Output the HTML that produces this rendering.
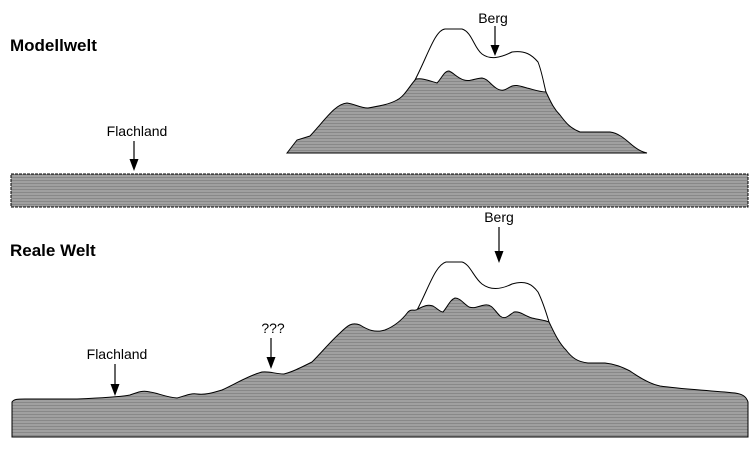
<!DOCTYPE html>
<html><head><meta charset="utf-8"><style>
html,body{margin:0;padding:0;background:#fff;}
svg{display:block;}
text{font-family:"Liberation Sans",Arial,sans-serif;fill:#000;}
</style></head><body>
<svg width="755" height="450" viewBox="0 0 755 450" xmlns="http://www.w3.org/2000/svg">
<defs>
<pattern id="p" width="4" height="3" patternUnits="userSpaceOnUse">
<rect width="4" height="3" fill="#a0a0a0"/>
<rect width="4" height="1" fill="#888"/>
</pattern>
</defs>
<text x="10" y="51" font-size="17" font-weight="bold">Modellwelt</text>
<path d="M415,80 C428,55 435,30 445,29 L462,29 C472,32 474,48 482,54 C490,60 500,58 512,52 C525,50 532,55 538,62 C542,72 544,85 546,92" fill="none" stroke="#000" stroke-width="1"/>
<path d="M287,153 L297,140 L310,136 C325,120 335,104 347,103 C355,104 360,108 368,108 C380,106 390,104 397,100 C405,96 410,85 416,79 C422,78 427,80 437,83 C442,78 444,71 449,71 C454,73 457,78 464,80 C470,82 476,78 482,78 C488,79 490,84 496,88 C502,92 505,90 510,87 C515,84 520,86 527,88 C535,90 540,92 546,92 C550,100 553,108 560,115 C566,123 570,128 580,132 L610,132 C618,133 624,138 632,145 C638,150 642,152 647,153 Z" fill="url(#p)" stroke="#000" stroke-width="1"/>
<text x="493" y="23" font-size="14" text-anchor="middle">Berg</text>
<line x1="495" y1="26" x2="495" y2="46" stroke="#000" stroke-width="1.2"/>
<polygon points="490.5,45 499.5,45 495,56" fill="#000"/>
<rect x="11" y="174" width="737" height="33" fill="url(#p)" stroke="#000" stroke-width="1" stroke-dasharray="3,1"/>
<text x="137" y="136" font-size="14" text-anchor="middle">Flachland</text>
<line x1="134" y1="141" x2="134" y2="160" stroke="#000" stroke-width="1.2"/>
<polygon points="129.5,159 138.5,159 134,171" fill="#000"/>

<text x="10" y="256" font-size="17" font-weight="bold">Reale Welt</text>
<path d="M416,312 C428,290 435,265 446,262 L462,262 C470,264 474,278 482,284 C490,290 500,290 512,284 C525,280 532,284 538,292 C543,302 546,312 549,322" fill="none" stroke="#000" stroke-width="1"/>
<path d="M12,437 L12,402 C14,399 18,399 25,399 L77,399 C100,398 120,397 130,395 C138,392 143,390 150,392 C158,393 165,397 177,398 C185,396 190,393 197,394 C205,395 212,393 222,390 C235,384 250,375 262,372 C270,371 275,374 284,374 C292,372 300,368 312,362 C322,352 330,342 340,333 C348,325 352,322 360,325 C368,330 375,333 385,330 C395,326 402,320 408,312 C412,308 414,312 418,309 C424,306 428,304 433,306 C438,309 440,312 443,312 C448,306 450,300 455,298 C460,298 463,303 469,307 C475,309 478,306 485,305 C492,304 494,310 500,316 C505,320 508,316 514,312 C520,311 525,316 532,318 C540,320 545,320 549,322 C553,330 558,342 566,350 C572,358 578,362 588,363 L605,363 C615,364 622,367 630,371 C640,378 650,384 660,386 C680,389 705,390 735,393 C742,394 746,396 748,402 L748,437 Z" fill="url(#p)" stroke="#000" stroke-width="1"/>
<text x="499" y="222" font-size="14" text-anchor="middle">Berg</text>
<line x1="499" y1="227" x2="499" y2="252" stroke="#000" stroke-width="1.2"/>
<polygon points="494.5,251 503.5,251 499,263" fill="#000"/>
<text x="273" y="333" font-size="14" text-anchor="middle">???</text>
<line x1="271" y1="338" x2="271" y2="358" stroke="#000" stroke-width="1.2"/>
<polygon points="266.5,357 275.5,357 271,369" fill="#000"/>
<text x="117" y="359" font-size="14" text-anchor="middle">Flachland</text>
<line x1="115" y1="364" x2="115" y2="385" stroke="#000" stroke-width="1.2"/>
<polygon points="110.5,384 119.5,384 115,396" fill="#000"/>
</svg>
</body></html>
